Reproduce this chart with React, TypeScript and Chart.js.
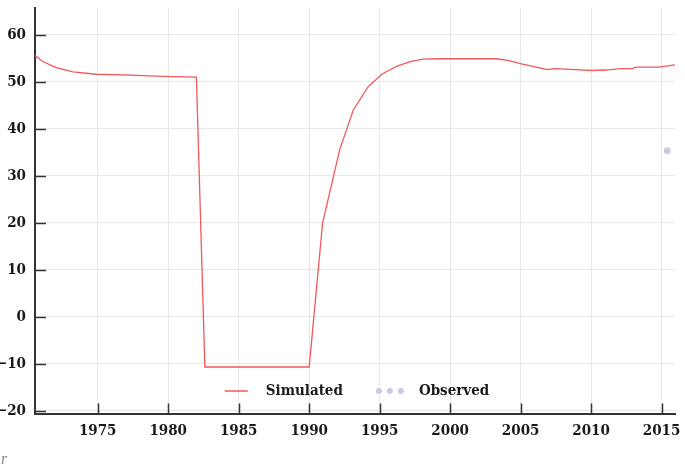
import React, { useEffect, useRef } from "react";
import { Chart, registerables } from "chart.js";

Chart.register(...registerables);

const simYears = [
  1970.56, 1971.1, 1972.05, 1973.25, 1974.9, 1977.3, 1979.6, 1982.0, 1982.6, 1990.0,
  1990.95, 1992.16, 1993.13, 1994.2, 1995.16, 1996.2, 1997.15, 1998.1, 1999.3, 2003.26,
  2004.2, 2004.9, 2006.9, 2007.4, 2008.9, 2010.1, 2011.06, 2012.1, 2012.9, 2013.2,
  2014.8, 2015.95,
];
const simValues = [
  55.6, 54.3, 53.0, 52.1, 51.6, 51.4, 51.15, 51.0, -10.7, -10.7,
  19.9, 35.5, 44.0, 49.0, 51.6, 53.3, 54.3, 54.8, 54.9, 54.9,
  54.5, 53.9, 52.6, 52.8, 52.6, 52.4, 52.5, 52.8, 52.8, 53.1,
  53.1, 53.6,
];
const obsYears = [2015.4];
const obsValues = [35.3];

const legendLabels = ["Simulated", "Observed"];
const cornerText = "r";

const FONT = "'DejaVu Serif Condensed', 'DejaVu Serif', serif";
const SIM_COLOR = "#f0585c";
const OBS_COLOR = "#c8cbe6";
const AXIS_COLOR = "#333333";
const GRID_COLOR = "#e8e8e8";

const fmt = (v: number) => (v < 0 ? "\u2212" + Math.abs(v) : String(v));

const innerTicks = {
  id: "innerTicks",
  afterDraw(chart: any) {
    const ctx = chart.ctx;
    const { left, bottom } = chart.chartArea;
    ctx.save();
    ctx.strokeStyle = AXIS_COLOR;
    ctx.lineWidth = 1.5;
    const ys = chart.scales.y;
    ys.ticks.forEach((t: any) => {
      const py = Math.round(ys.getPixelForValue(t.value)) + 0.5;
      ctx.beginPath();
      ctx.moveTo(left, py);
      ctx.lineTo(left + 11, py);
      ctx.stroke();
    });
    const xs = chart.scales.x;
    xs.ticks.forEach((t: any) => {
      const px = Math.round(xs.getPixelForValue(t.value)) + 0.5;
      ctx.beginPath();
      ctx.moveTo(px, bottom);
      ctx.lineTo(px, bottom - 10);
      ctx.stroke();
    });
    ctx.restore();
  },
};

const customLegend = {
  id: "customLegend",
  afterDraw(chart: any) {
    const ctx = chart.ctx;
    const { left, right, bottom } = chart.chartArea;
    ctx.save();
    ctx.font = "bold 15px " + FONT;
    const w1 = ctx.measureText(legendLabels[0]).width;
    const w2 = ctx.measureText(legendLabels[1]).width;
    const lineW = 23, gapA = 18, gapItems = 33, dotsW = 28, gapB = 15;
    const total = lineW + gapA + w1 + gapItems + dotsW + gapB + w2;
    let x = (left + right) / 2 + 2 - total / 2;
    const y = bottom - 22.5;
    ctx.strokeStyle = SIM_COLOR;
    ctx.lineWidth = 1.5;
    ctx.beginPath();
    ctx.moveTo(x, y);
    ctx.lineTo(x + lineW, y);
    ctx.stroke();
    x += lineW + gapA;
    ctx.fillStyle = "#1a1a1a";
    ctx.textBaseline = "middle";
    ctx.textAlign = "left";
    ctx.fillText(legendLabels[0], x, y);
    x += w1 + gapItems;
    ctx.fillStyle = OBS_COLOR;
    for (let i = 0; i < 3; i++) {
      ctx.beginPath();
      ctx.arc(x + 3 + i * 11, y, 3, 0, Math.PI * 2);
      ctx.fill();
    }
    x += dotsW + gapB;
    ctx.fillStyle = "#1a1a1a";
    ctx.fillText(legendLabels[1], x, y);
    ctx.restore();
  },
};

export default function App() {
  const ref = useRef<HTMLCanvasElement>(null);
  useEffect(() => {
    document.body.style.margin = "0";
    const sim = simYears.map((x, i) => ({ x, y: simValues[i] }));
    const obs = obsYears.map((x, i) => ({ x, y: obsValues[i] }));
    const chart = new Chart(ref.current!, {
      type: "scatter",
      data: {
        datasets: [
          {
            label: legendLabels[0],
            data: sim,
            showLine: true,
            borderColor: SIM_COLOR,
            backgroundColor: SIM_COLOR,
            borderWidth: 1.3,
            pointRadius: 0,
            tension: 0,
          },
          {
            label: legendLabels[1],
            data: obs,
            showLine: false,
            borderColor: OBS_COLOR,
            backgroundColor: OBS_COLOR,
            pointRadius: 3.5,
            borderWidth: 0,
          },
        ],
      },
      options: {
        responsive: false,
        animation: false,
        layout: { padding: { top: 8, right: 10, left: 0, bottom: 0 } },
        plugins: { legend: { display: false }, tooltip: { enabled: false } },
        scales: {
          x: {
            type: "linear",
            min: 1970.55,
            max: 2015.95,
            afterFit: (s: any) => {
              s.height = 54.5;
              s.paddingLeft = 0;
              s.paddingRight = 0;
            },
            ticks: {
              stepSize: 5,
              includeBounds: false,
              padding: 9,
              color: "#1a1a1a",
              font: { family: FONT, size: 15, weight: "bold" },
              callback: (v: any) => String(v),
              maxRotation: 0,
            },
            grid: { color: GRID_COLOR, lineWidth: 1, drawTicks: false },
            border: { color: AXIS_COLOR, width: 2 },
          },
          y: {
            type: "linear",
            min: -20.6,
            max: 65.7,
            afterFit: (s: any) => {
              s.width = 35;
              s.paddingTop = 0;
              s.paddingBottom = 0;
            },
            ticks: {
              stepSize: 10,
              includeBounds: false,
              padding: 9,
              color: "#1a1a1a",
              font: { family: FONT, size: 15, weight: "bold" },
              callback: (v: any) => fmt(Number(v)),
            },
            grid: { color: GRID_COLOR, lineWidth: 1, drawTicks: false },
            border: { color: AXIS_COLOR, width: 2 },
          },
        },
      } as any,
      plugins: [innerTicks, customLegend],
    });
    return () => chart.destroy();
  }, []);
  return (
    <div style={{ position: "relative", width: 685, height: 468 }}>
      <canvas ref={ref} width={685} height={468} style={{ display: "block" }} />
      <div
        style={{
          position: "absolute",
          left: 1,
          top: 450,
          fontFamily: "'Liberation Serif', serif",
          fontStyle: "italic",
          fontSize: 16,
          color: "#888",
        }}
      >
        {cornerText}
      </div>
    </div>
  );
}
